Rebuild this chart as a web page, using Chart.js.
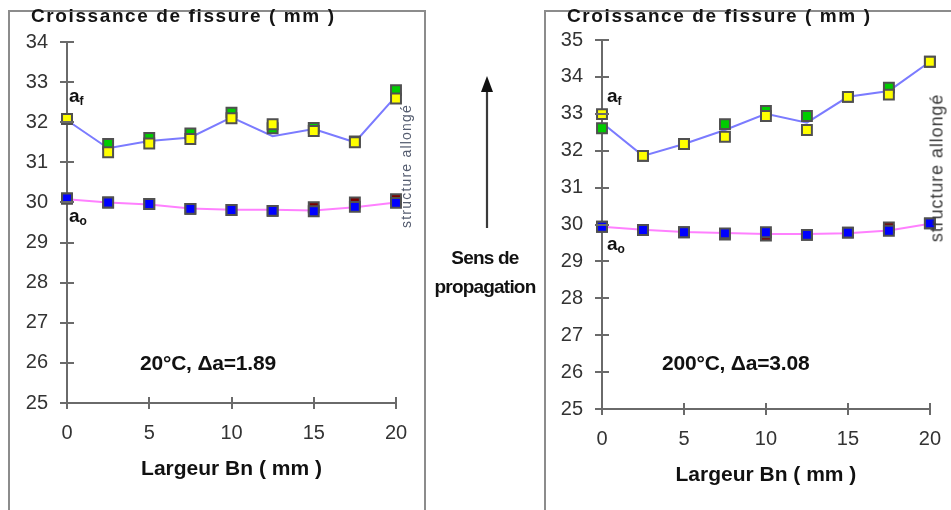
<!DOCTYPE html>
<html>
<head>
<meta charset="utf-8">
<script src="https://cdn.jsdelivr.net/npm/chart.js@4/dist/chart.umd.min.js"></script>
<style>
  html, body { margin: 0; padding: 0; background: #ffffff; }
  #wrap { position: relative; width: 951px; height: 510px; overflow: hidden; background: #fff; font-family: "Liberation Sans", Arial, sans-serif; }
  canvas { position: absolute; left: 0; top: 0; }
  .box { position: absolute; border: 2px solid #8c8c8c; box-sizing: border-box; }
  .txt { position: absolute; white-space: nowrap; color: #111; font-weight: bold; }
  .title { font-size: 19px; letter-spacing: 1.6px; color: #141414; }
  .note { font-size: 21px; letter-spacing: -0.2px; }
  .lab { font-size: 19px; }
  .lab sub { font-size: 12px; vertical-align: -3px; }
  .rot { position: absolute; white-space: nowrap; transform: translate(-50%, -50%) rotate(-90deg); font-weight: normal; }
  .mid { font-size: 19px; letter-spacing: -0.8px; text-align: center; width: 130px; line-height: 29px; }
</style>
</head>
<body>
<div id="wrap">
  <div class="box" style="left:8px; top:10px; width:418px; height:510px;"></div>
  <div class="box" style="left:544px; top:10px; width:420px; height:510px;"></div>

  <canvas id="c1" width="951" height="510"></canvas>
  <canvas id="c2" width="951" height="510"></canvas>

  <div class="txt title" style="left:31px; top:5px;">Croissance de fissure ( mm )</div>
  <div class="txt title" style="left:567px; top:5px;">Croissance de fissure ( mm )</div>

  <div class="txt lab" style="left:69px; top:85px;">a<sub>f</sub></div>
  <div class="txt lab" style="left:69px; top:205px;">a<sub>o</sub></div>
  <div class="txt lab" style="left:607px; top:85px;">a<sub>f</sub></div>
  <div class="txt lab" style="left:607px; top:233px;">a<sub>o</sub></div>

  <div class="txt note" style="left:140px; top:351px;">20°C, Δa=1.89</div>
  <div class="txt note" style="left:662px; top:351px;">200°C, Δa=3.08</div>

  <div class="rot" style="left:406px; top:166px; font-size:14px; letter-spacing:1.2px; color:#555d70;">structure allongé</div>
  <div class="rot" style="left:937px; top:168px; font-size:18px; letter-spacing:0.9px; color:#3a3a3a;">structure allongé</div>

  <svg style="position:absolute; left:470px; top:70px;" width="34" height="165">
    <line x1="17" y1="20" x2="17" y2="158" stroke="#3a3a3a" stroke-width="2.2"/>
    <polygon points="17,6 11,22 23,22" fill="#111"/>
  </svg>
  <div class="txt mid" style="left:420px; top:243px;">Sens de<br>propagation</div>
</div>

<script>
// ---------- data ----------
const widthPositions = [0, 2.5, 5, 7.5, 10, 12.5, 15, 17.5, 20];

// 20 °C panel
const afLine20   = [32.05, 31.35, 31.53, 31.62, 32.12, 31.65, 31.83, 31.50, 32.65];
const afGreen20  = [32.08, 31.46, 31.61, 31.72, 32.24, 31.85, 31.86, 31.52, 32.80];
const afYellow20 = [32.08, 31.25, 31.47, 31.58, 32.10, 31.95, 31.78, 31.50, 32.59];
const a0Line20   = [30.08, 30.00, 29.95, 29.85, 29.82, 29.82, 29.80, 29.88, 30.00];
const a0Red20    = [30.10, 30.00, 29.96, 29.84, 29.81, 29.79, 29.88, 30.00, 30.08];
const a0Blue20   = [30.10, 30.00, 29.96, 29.84, 29.81, 29.79, 29.78, 29.89, 29.99];

// 200 °C panel
const afLine200   = [32.76, 31.86, 32.18, 32.56, 33.00, 32.76, 33.46, 33.62, 34.41];
const afGreen200  = [32.61, 31.86, 32.18, 32.72, 33.08, 32.94, 33.46, 33.71, 34.41];
const afYellow200 = [32.99, 31.86, 32.18, 32.38, 32.94, 32.56, 33.46, 33.52, 34.41];
const a0Line200   = [29.94, 29.86, 29.80, 29.77, 29.74, 29.74, 29.76, 29.84, 30.02];
const a0Red200    = [29.94, 29.85, 29.79, 29.73, 29.70, 29.72, 29.78, 29.92, 30.03];
const a0Blue200   = [29.94, 29.85, 29.79, 29.76, 29.79, 29.72, 29.78, 29.83, 30.03];

// axis ranges / tick steps
const xRange = [0, 20];
const xStep = 5;
const yRange20 = [25, 34];
const yRange200 = [25, 35];
const yStep = 1;

// ---------- helpers ----------
function pts(vals) { return vals.map((v, i) => ({ x: widthPositions[i], y: v })); }

function lineDs(vals, color, order) {
  return { data: pts(vals), borderColor: color, borderWidth: 2, pointRadius: 0, fill: false, tension: 0, order: order, clip: false };
}
function markDs(vals, color, order) {
  return { data: pts(vals), showLine: false, pointStyle: 'rect', pointRadius: 7, pointHoverRadius: 7,
           backgroundColor: color, borderColor: '#505050', borderWidth: 2, order: order, clip: false };
}

const crossTicks = {
  id: 'crossTicks',
  afterDraw(chart) {
    const ctx = chart.ctx;
    const xs = chart.scales.x, ys = chart.scales.y;
    ctx.save();
    ctx.strokeStyle = '#6a6a6a';
    ctx.lineWidth = 2;
    ctx.beginPath();
    ys.ticks.forEach(t => {
      const p = Math.round(ys.getPixelForValue(t.value));
      ctx.moveTo(xs.left - 7, p); ctx.lineTo(xs.left + 7, p);
    });
    xs.ticks.forEach(t => {
      const p = Math.round(xs.getPixelForValue(t.value));
      ctx.moveTo(p, ys.bottom - 6); ctx.lineTo(p, ys.bottom + 6);
    });
    ctx.stroke();
    ctx.restore();
  }
};

const FONT = '"Liberation Sans", Arial, sans-serif';

function makeChart(id, pad, yRange, afL, afG, afY, a0L, a0R, a0B) {
  return new Chart(document.getElementById(id), {
    type: 'line',
    data: {
      datasets: [
        markDs(afY, '#ffff00', 0),
        markDs(afG, '#00cc00', 1),
        markDs(a0B, '#0000ff', 2),
        markDs(a0R, '#7a0000', 3),
        lineDs(afL, '#7b7bff', 4),
        lineDs(a0L, '#ff80ff', 5)
      ]
    },
    options: {
      responsive: false,
      animation: false,
      events: [],
      layout: { padding: pad },
      plugins: { legend: { display: false }, tooltip: { enabled: false }, title: { display: false } },
      scales: {
        x: {
          type: 'linear', min: xRange[0], max: xRange[1],
          grid: { display: false },
          border: { display: true, color: '#6a6a6a', width: 2 },
          ticks: { stepSize: xStep, padding: 10, color: '#333333', font: { family: FONT, size: 20 } },
          title: { display: true, text: 'Largeur Bn ( mm )', color: '#111', padding: 0,
                   font: { family: FONT, size: 21, weight: 'bold' } },
          afterFit(s) { s.height = 79; }
        },
        y: {
          type: 'linear', min: yRange[0], max: yRange[1],
          grid: { display: false },
          border: { display: true, color: '#6a6a6a', width: 2 },
          ticks: { stepSize: yStep, padding: 11, color: '#333333', font: { family: FONT, size: 20 } },
          afterFit(s) { s.width = 50; }
        }
      }
    },
    plugins: [crossTicks]
  });
}

makeChart('c1', { left: 17, right: 951 - 396, top: 42, bottom: 510 - 403 - 79 }, yRange20,
  afLine20, afGreen20, afYellow20, a0Line20, a0Red20, a0Blue20);
makeChart('c2', { left: 602 - 50, right: 951 - 933, top: 40, bottom: 510 - 409 - 79 }, yRange200,
  afLine200, afGreen200, afYellow200, a0Line200, a0Red200, a0Blue200);
</script>
</body>
</html>
